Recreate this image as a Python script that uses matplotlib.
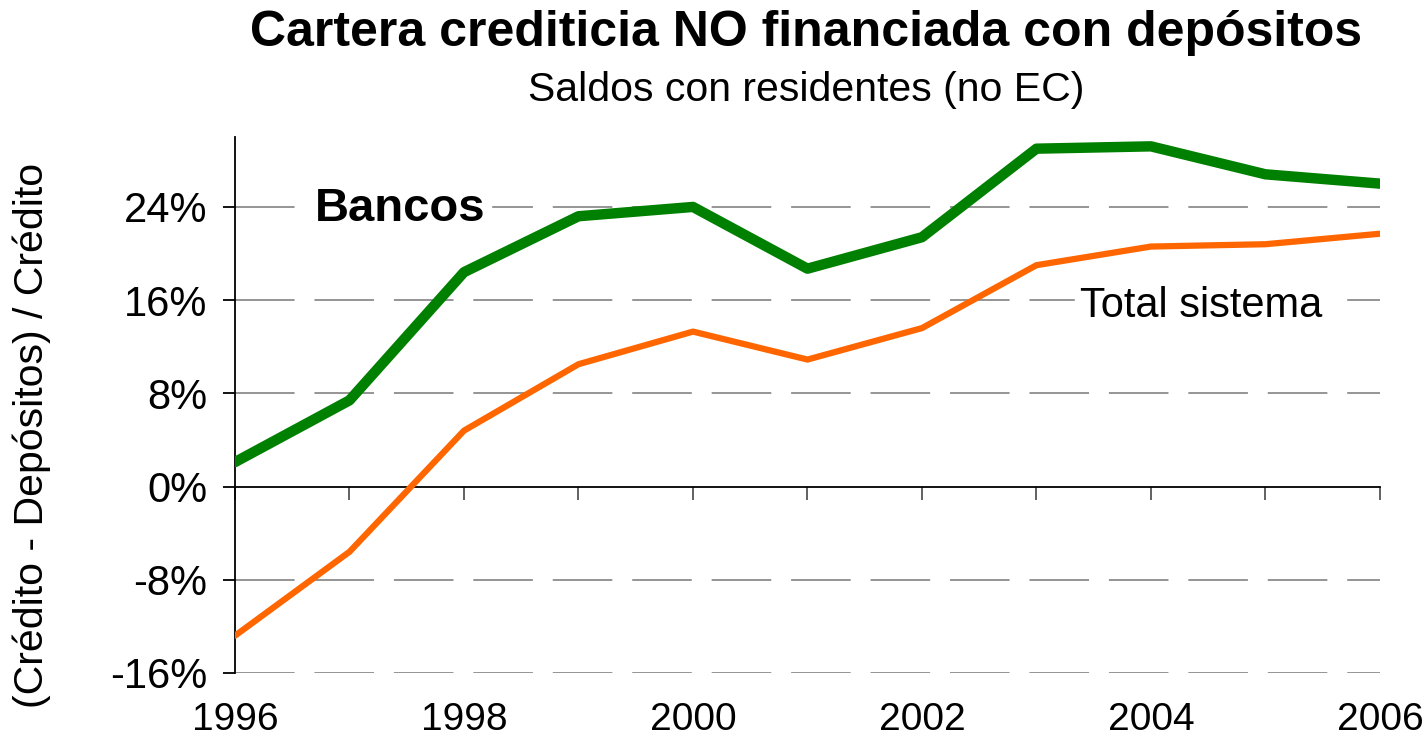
import matplotlib
matplotlib.use('Agg')
import matplotlib.pyplot as plt
import matplotlib.transforms as mtransforms

plt.rcParams['font.family'] = ['Liberation Sans', 'DejaVu Sans']

# Data
years = [1996, 1997, 1998, 1999, 2000, 2001, 2002, 2003, 2004, 2005, 2006]
bancos = [2.1, 7.4, 18.4, 23.2, 24.0, 18.7, 21.4, 29.0, 29.2, 26.8, 26.0]
total_sistema = [-12.8, -5.6, 4.8, 10.5, 13.3, 10.9, 13.6, 19.0, 20.6, 20.8, 21.7]
yticks = [-16, -8, 0, 8, 16, 24]
year_labels = [1996, 1998, 2000, 2002, 2004, 2006]

fig = plt.figure(figsize=(14.26, 7.5), dpi=100)
ax = fig.add_axes([0.1648, 0.1027, 0.8029, 0.7146])

# Gridlines (dashed gray), skip zero where the x axis sits
for v in yticks:
    if v != 0:
        ax.axhline(v, color='#8c8c8c', linewidth=1.3, dashes=(33, 11), zorder=1)

ax.plot(years, total_sistema, color='#FF6600', linewidth=4.5, solid_capstyle='round', zorder=3)
ax.plot(years, bancos, color='#008000', linewidth=7.5, solid_capstyle='round', zorder=4)

ax.set_xlim(1996, 2006)
ax.set_ylim(-16, 30)

# Axes styling
ax.spines['top'].set_visible(False)
ax.spines['right'].set_visible(False)
ax.spines['bottom'].set_position(('data', 0))
ax.spines['bottom'].set_linewidth(1.3)
ax.spines['left'].set_linewidth(1.3)

ax.set_yticks(yticks)
ax.set_yticklabels([f'{v}%' for v in yticks], fontsize=30)
ax.tick_params(axis='y', direction='out', length=9, width=1.3, pad=11)

ax.set_xticks(years)
ax.set_xticklabels([])
ax.tick_params(axis='x', direction='out', length=9, width=1.3, color='#555555')

# year labels below the plot area
trans = mtransforms.blended_transform_factory(ax.transData, ax.transAxes)
for yr in year_labels:
    ax.text(yr, -0.087, str(yr), transform=trans, ha='center', va='center', fontsize=28)

fig.text(0.0224, 0.42, '(Crédito - Depósitos) / Crédito', fontsize=29.5, rotation=90,
         ha='center', va='center')

# Series labels
ax.text(1997.44, 23.8, 'Bancos', fontsize=34, fontweight='bold', ha='center', va='center',
        backgroundcolor='white', zorder=5)
ax.text(2004.44, 15.5, 'Total sistema', fontsize=30, ha='center', va='center',
        backgroundcolor='white', zorder=5)

fig.text(0.5652, 0.956, 'Cartera crediticia NO financiada con depósitos', fontsize=36,
         fontweight='bold', ha='center', va='center')
fig.text(0.5652, 0.88, 'Saldos con residentes (no EC)', fontsize=29.5, ha='center', va='center')

fig.savefig('out.png', dpi=100)
